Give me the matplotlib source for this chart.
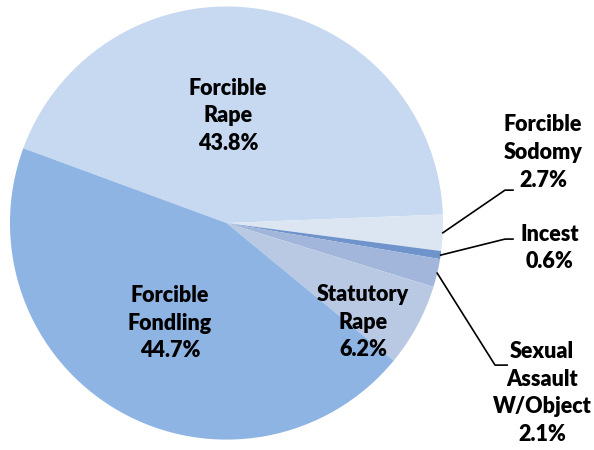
import numpy as np
import matplotlib.pyplot as plt

labels = ["Forcible\nRape", "Forcible\nSodomy", "Incest", "Sexual\nAssault\nW/Object",
          "Statutory\nRape", "Forcible\nFondling"]
values = [43.8, 2.7, 0.6, 2.1, 6.2, 44.7]
colors = ["#c6d9f1", "#dce6f2", "#6f94cc", "#a2b5da", "#b9c9e3", "#8eb4e3"]

plt.rcParams['font.family'] = ['Lato', 'DejaVu Sans']

fig = plt.figure(figsize=(5.94, 4.5), dpi=100)
ax = fig.add_axes([0, 0, 1, 1])

wedges, _ = ax.pie(values, colors=colors, startangle=159.8, counterclock=False,
                   radius=1.0, center=(0, 0), frame=True,
                   wedgeprops=dict(linewidth=0))
ax.set_xlim(-1.046, 1.697)
ax.set_ylim(-1.048, 1.030)
ax.set_aspect('auto')
ax.axis('off')

fs = 15.5
ls = 1.4
fw = 'heavy'

# inside labels
inside = {0: (0.007, 0.495), 5: (-0.261, -0.462), 4: (0.630, -0.457)}
for i, (x, y) in inside.items():
    ax.text(x, y, f"{labels[i]}\n{values[i]}%", ha='center', va='center',
            fontsize=fs, fontweight=fw, linespacing=ls)

# outside labels with leader lines
outside = {1: ((1.462, 0.325), (1.286, 0.152), 1.323),
           2: ((1.494, -0.115), (1.286, -0.074), 1.323),
           3: ((1.457, -0.785), (1.240, -0.656), 1.296)}
for i, (txt, elbow, xend) in outside.items():
    w = wedges[i]
    mid = np.deg2rad((w.theta1 + w.theta2) / 2)
    x0, y0 = np.cos(mid), np.sin(mid)
    ax.plot([x0, elbow[0], xend], [y0, elbow[1], elbow[1]], color='black', lw=1.2)
    ax.text(txt[0], txt[1], f"{labels[i]}\n{values[i]}%", ha='center', va='center',
            fontsize=fs, fontweight=fw, linespacing=ls)

fig.savefig("out.png", dpi=100)
